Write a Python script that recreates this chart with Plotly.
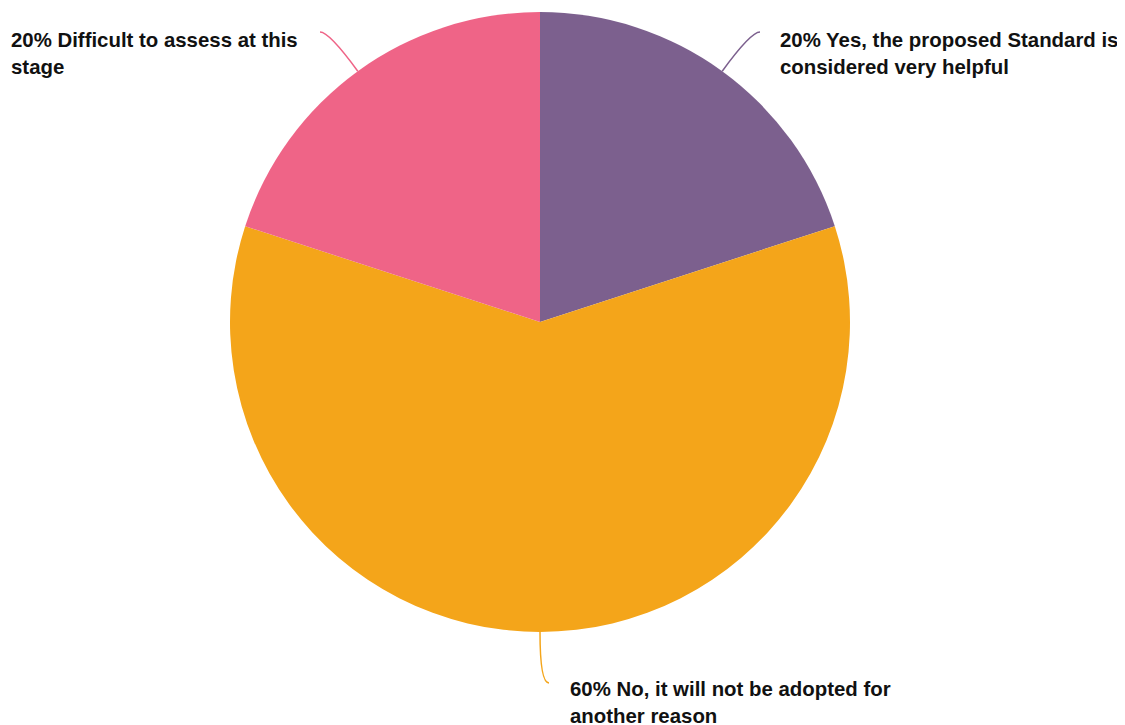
import math
import plotly.graph_objects as go

# --- Data ---
labels = [
    "Yes, the proposed Standard is<br>considered very helpful",
    "No, it will not be adopted for<br>another reason",
    "Difficult to assess at this<br>stage",
]
values = [20, 60, 20]
colors = ["#7C608E", "#F4A51A", "#EF6487"]

# --- Layout (pixels, as seen in the window) ---
W, H = 1125, 725
OFF = 8  # page body margin pushes the figure by 8px
CX, CY, R = 540, 322, 310

# label placement: (text left x, text top y, leader end x, leader end y)
label_pos = [
    (778, 27, 760, 32),
    (568, 676, 549, 683),
    (9, 27, 320, 32),
]


def px(x):
    return (x - OFF) / W


def py(y):
    return 1 - (y - OFF) / H


fig = go.Figure(go.Pie(
    labels=labels,
    values=values,
    marker=dict(colors=colors, line=dict(width=0)),
    sort=False,
    direction="clockwise",
    rotation=0,
    textinfo="none",
    hoverinfo="label+percent",
    domain=dict(x=[px(CX - R), px(CX + R)], y=[py(CY + R), py(CY - R)]),
))

total = sum(values)
start = 0.0
shapes, annotations = [], []
for lab, val, col, (tx, ty, ex, ey) in zip(labels, values, colors, label_pos):
    mid = (start + val / total / 2) * 2 * math.pi
    start += val / total
    dx, dy = math.sin(mid), -math.cos(mid)
    sx, sy = CX + R * dx, CY + R * dy
    # control point along the radial direction, level with the line end
    d = abs((ey - sy) / dy) if abs(dy) > 1e-6 else 40
    qx, qy = sx + d * dx, sy + d * dy
    shapes.append(dict(
        type="path", xref="paper", yref="paper",
        path=f"M {px(sx)},{py(sy)} Q {px(qx)},{py(qy)} {px(ex)},{py(ey)}",
        line=dict(color=col, width=1.5),
    ))
    pct = round(val / total * 100)
    annotations.append(dict(
        x=px(tx), y=py(ty), xref="paper", yref="paper",
        xanchor="left", yanchor="top", align="left",
        text=f"<b>{pct}% {lab}</b>", showarrow=False,
        font=dict(family="Liberation Sans, Arial, sans-serif", size=20.4, color="#111111"),
    ))

fig.update_layout(
    width=W, height=H,
    margin=dict(l=0, r=0, t=0, b=0),
    paper_bgcolor="white",
    plot_bgcolor="white",
    showlegend=False,
    shapes=shapes,
    annotations=annotations,
)

fig.write_html("out.html")
